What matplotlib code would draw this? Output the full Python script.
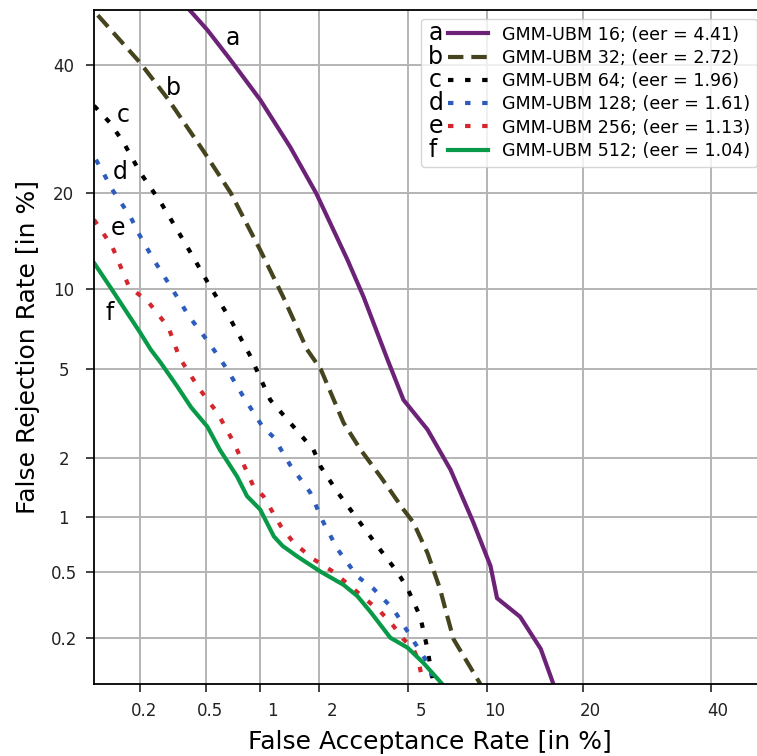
from statistics import NormalDist

import numpy as np
import matplotlib
matplotlib.use("Agg")
import matplotlib.pyplot as plt
from matplotlib.legend_handler import HandlerLine2D
from matplotlib.text import Text
from matplotlib.transforms import ScaledTranslation

# DET curves, values in percent
a_fa = [0.40, 0.51, 0.69, 1.00, 1.43, 1.93, 2.71, 3.21, 4.09, 4.77, 5.97, 7.34, 8.91, 10.25, 10.8, 12.9, 15.0, 16.4]
a_fr = [50.0, 46.3, 40.9, 34.0, 26.5, 20.0, 12.6, 9.4, 5.43, 3.69, 2.72, 1.75, 0.94, 0.54, 0.35, 0.27, 0.17, 0.10]

b_fa = [0.106, 0.20, 0.30, 0.48, 0.69, 1.00, 1.32, 1.74, 2.03, 2.60, 3.11, 3.81, 4.77, 5.24, 5.97, 6.68, 7.14, 7.53, 9.44]
b_fr = [49.0, 40.4, 34.0, 26.0, 20.1, 13.55, 9.4, 5.97, 4.97, 2.92, 2.19, 1.62, 1.10, 0.94, 0.64, 0.40, 0.27, 0.196, 0.10]

c_fa = [0.10, 0.128, 0.157, 0.20, 0.27, 0.34, 0.42, 0.53, 0.69, 0.89, 0.97, 1.13, 1.49, 1.87, 2.03, 2.44, 3.01, 3.69, 4.49, 4.96, 5.59, 5.97, 6.30]
c_fr = [33.0, 30.2, 27.1, 22.8, 18.8, 15.6, 12.9, 10.2, 7.78, 5.59, 4.83, 3.69, 2.80, 2.19, 1.81, 1.35, 0.98, 0.70, 0.50, 0.40, 0.27, 0.17, 0.10]

d_fa = [0.103, 0.115, 0.132, 0.174, 0.195, 0.243, 0.31, 0.40, 0.52, 0.58, 0.66, 0.81, 1.03, 1.18, 1.43, 1.80, 2.09, 2.44, 3.01, 3.54, 4.33, 5.10, 5.59, 6.14, 6.25]
d_fr = [24.6, 22.8, 20.5, 17.1, 15.3, 12.6, 10.2, 7.97, 6.36, 5.70, 4.97, 3.82, 2.80, 2.50, 1.85, 1.35, 0.94, 0.67, 0.47, 0.40, 0.30, 0.205, 0.163, 0.13, 0.10]

e_fa = [0.10, 0.115, 0.132, 0.17, 0.224, 0.30, 0.35, 0.45, 0.51, 0.58, 0.72, 0.92, 1.04, 1.28, 1.49, 1.87, 2.33, 3.01, 3.81, 4.33, 4.77, 5.24, 5.48, 5.75]
e_fr = [16.8, 15.3, 13.9, 10.2, 9.06, 7.27, 5.53, 4.20, 3.69, 3.25, 2.36, 1.45, 1.29, 0.90, 0.73, 0.59, 0.50, 0.38, 0.29, 0.237, 0.196, 0.17, 0.145, 0.10]

f_fa = [0.10, 0.128, 0.20, 0.233, 0.268, 0.34, 0.41, 0.51, 0.60, 0.75, 0.85, 1.00, 1.18, 1.31, 1.56, 2.03, 2.60, 3.01, 3.44, 4.20, 4.96, 5.75, 6.82]
f_fr = [12.3, 10.2, 6.95, 5.97, 5.30, 4.20, 3.42, 2.80, 2.19, 1.62, 1.29, 1.10, 0.79, 0.70, 0.61, 0.50, 0.42, 0.36, 0.29, 0.20, 0.173, 0.138, 0.10]

letters = ["a", "b", "c", "d", "e", "f"]
names = ["GMM-UBM 16", "GMM-UBM 32", "GMM-UBM 64", "GMM-UBM 128", "GMM-UBM 256", "GMM-UBM 512"]
eers = [4.41, 2.72, 1.96, 1.61, 1.13, 1.04]
# where the curve letters sit (FA %, FR %)
label_fa = [0.71, 0.32, 0.157, 0.15, 0.145, 0.128]
label_fr = [44.8, 36.0, 31.5, 22.9, 15.9, 8.26]

ticks = [0.2, 0.5, 1, 2, 5, 10, 20, 40]
tick_labels = ["0.2", "0.5", "1", "2", "5", "10", "20", "40"]

curves = [(a_fa, a_fr), (b_fa, b_fr), (c_fa, c_fr), (d_fa, d_fr), (e_fa, e_fr), (f_fa, f_fr)]
colors = ["#6c2377", "#45441f", "black", "#2c5cbc", "#d4262c", "#089a48"]
styles = ["-", (0, (3.7, 1.9)), (0, (1.3, 2.8)), (0, (1.3, 2.8)), (0, (1.3, 2.8)), "-"]

_nd = NormalDist()
_ppf = np.vectorize(_nd.inv_cdf, otypes=[float])
_cdf = np.vectorize(_nd.cdf, otypes=[float])


def to_probit(p):
    p = np.clip(np.asarray(p, dtype=float) / 100.0, 1e-9, 1 - 1e-9)
    return _ppf(p)


def from_probit(z):
    return _cdf(np.asarray(z, dtype=float)) * 100.0


class LetterHandler(HandlerLine2D):
    # legend handle: letter on the left, then the line sample
    def __init__(self, letter, offset, **kw):
        super().__init__(**kw)
        self.letter = letter
        self.offset = offset

    def create_artists(self, legend, orig_handle, xdescent, ydescent,
                       width, height, fontsize, trans):
        off = self.offset * fontsize
        arts = super().create_artists(legend, orig_handle, xdescent - off, ydescent,
                                      width - off, height, fontsize, trans)
        t = Text(-xdescent, (height - ydescent) / 2, self.letter, fontsize=17,
                 va="center", ha="left", transform=trans)
        return list(arts) + [t]


fig = plt.figure(figsize=(7.57, 7.56), dpi=100)
ax = fig.add_axes([0.1242, 0.0952, 0.8879, 0.8919])
ax.set_xscale("function", functions=(to_probit, from_probit))
ax.set_yscale("function", functions=(to_probit, from_probit))

lines = []
for (fa, fr), col, ls, name, eer in zip(curves, colors, styles, names, eers):
    ln, = ax.plot(fa, fr, color=col, linestyle=ls, lw=3,
                  label="%s; (eer = %.2f)" % (name, eer))
    lines.append(ln)

for lx, ly, let in zip(label_fa, label_fr, letters):
    ax.text(lx, ly, let, fontsize=17, ha="center", va="center")

ax.set_xlim(0.1, 50)
ax.set_ylim(0.1, 50)
ax.set_xticks(ticks, tick_labels)
ax.set_yticks(ticks, tick_labels)
ax.minorticks_off()
ax.tick_params(labelsize=12, length=6, width=1.2, colors="#222222")
ax.tick_params(axis="x", pad=6.8)
ax.tick_params(axis="y", pad=15.8)
ax.grid(True, color="#b4b4b4", lw=1.4)
ax.set_axisbelow(True)
for sp in ax.spines.values():
    sp.set_linewidth(1.3)

# tick labels sit a bit off the ticks in the original
shift = ScaledTranslation(17.5 / 100, 0, fig.dpi_scale_trans)
for lab in ax.get_xticklabels():
    lab.set_horizontalalignment("right")
    lab.set_transform(lab.get_transform() + shift)
for lab in ax.get_yticklabels():
    lab.set_horizontalalignment("center")

ax.set_xlabel("False Acceptance Rate [in %]", fontsize=18, labelpad=7.5)
ax.set_ylabel("False Rejection Rate [in %]", fontsize=18, labelpad=7.6)

handler_map = {ln: LetterHandler(let, 1.14) for ln, let in zip(lines, letters)}
ax.legend(handles=lines, loc="upper right", fontsize=12.6, handlelength=3.43,
          labelspacing=0.3, handler_map=handler_map)

fig.savefig("out.png", dpi=100)
